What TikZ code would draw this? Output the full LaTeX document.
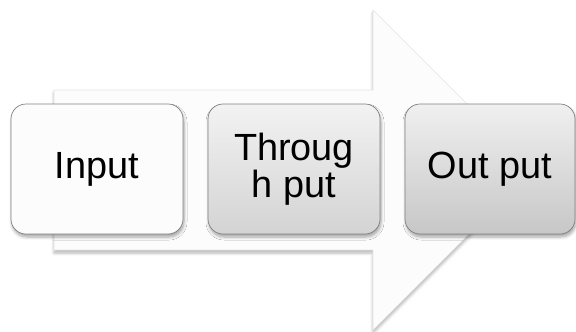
\documentclass[tikz,border=0pt]{standalone}
\usepackage{fontspec}
\setmainfont{Liberation Sans}
\usetikzlibrary{shadows.blur}
\begin{document}
\begin{tikzpicture}[x=1bp,y=-1bp]
\useasboundingbox (0,0) rectangle (576,331);
\tikzset{
  procbox/.style={draw=black!50, line width=0.7bp, rounded corners=15bp,
    minimum width=172bp, minimum height=130bp, inner sep=0pt, align=center,
    font=\fontsize{38}{37}\selectfont,
    blur shadow={shadow xshift=1bp, shadow yshift=-3bp, shadow opacity=35, shadow blur steps=6, shadow blur radius=3bp}},
  bigarrow/.style={fill=black!1, draw=black!10, line width=0.6bp,
    blur shadow={shadow xshift=0bp, shadow yshift=-3bp, shadow opacity=30, shadow blur steps=6, shadow blur radius=3bp}}
}
\path[bigarrow] (54,90) -- (373,90) -- (373,10) -- (533,170) -- (373,330) -- (373,250) -- (54,250) -- cycle;
\node[procbox, fill=black!1] (in) at (97,169) {Input};
\node[procbox, top color=black!5, bottom color=black!17] (th) at (294,169) {Throug\\h put};
\node[procbox, top color=black!6, bottom color=black!22, minimum width=170bp] (out) at (490,169) {Out put};
\end{tikzpicture}
\end{document}
